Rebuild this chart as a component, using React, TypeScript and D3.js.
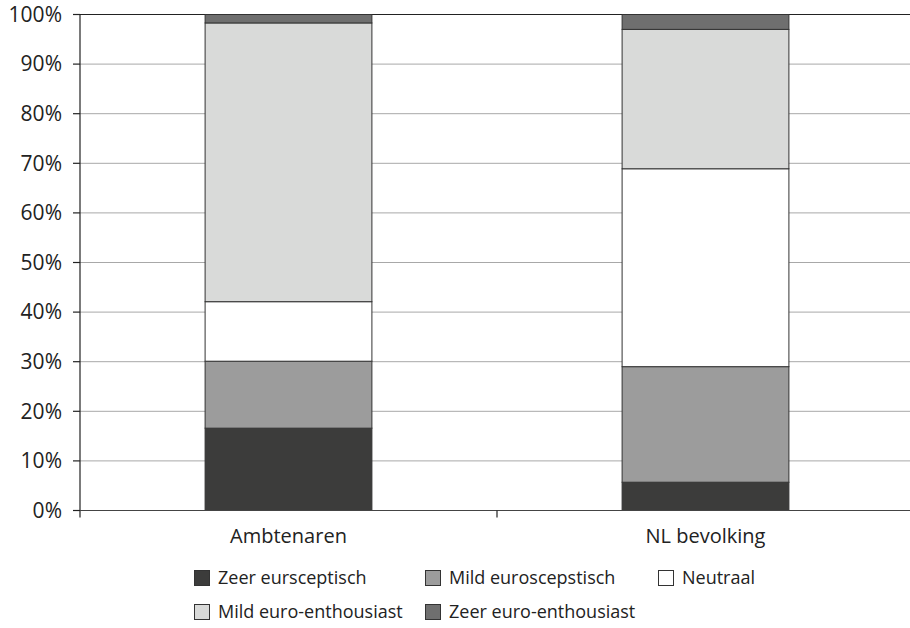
import React from "react";
import * as d3 from "d3";

const categories = ["Ambtenaren", "NL bevolking"];
const seriesNames = [
  "Zeer eursceptisch",
  "Mild euroscepstisch",
  "Neutraal",
  "Mild euro-enthousiast",
  "Zeer euro-enthousiast",
];
const zeerEurosceptisch = [16.6, 5.7];
const mildEurosceptisch = [13.5, 23.3];
const neutraal = [12.0, 39.9];
const mildEnthousiast = [56.2, 28.1];
const zeerEnthousiast = [1.7, 3.0];
const yTicks = [0, 10, 20, 30, 40, 50, 60, 70, 80, 90, 100];
const seriesColors = ["#3c3c3b", "#9c9c9c", "#ffffff", "#d9dad9", "#6f6f6f"];

const W = 910;
const H = 628;
const M = { left: 80, right: -4, top: 14.5, bottom: 117.5 };
const FONT = "'Open Sans', sans-serif";

export default function App() {
  const seriesValues = [zeerEurosceptisch, mildEurosceptisch, neutraal, mildEnthousiast, zeerEnthousiast];
  const rows = categories.map((c, i) => {
    const r: any = { cat: c };
    seriesNames.forEach((s, j) => (r[s] = seriesValues[j][i]));
    return r;
  });
  const stacked = d3.stack<any>().keys(seriesNames)(rows);

  const x = d3.scaleBand().domain(categories).range([M.left, W - M.right]).paddingInner(0.6).paddingOuter(0.3);
  const y = d3.scaleLinear().domain([0, 100]).range([H - M.bottom, M.top]);
  const step = x.step();
  const bandStart = (c: string) => (x(c) as number) - (step - x.bandwidth()) / 2;

  const legendRow1 = [0, 1, 2];
  const legendRow2 = [3, 4];
  const legendX = [194, 425, 658];

  return (
    <svg width={W} height={H} style={{ position: "absolute", left: 0, top: 0, fontFamily: FONT }}>
      <rect width={W} height={H} fill="#fff" />
      {yTicks.map((t) => (
        <g key={t}>
          {t > 0 && t < 100 && (
            <line x1={M.left} x2={W - M.right} y1={y(t)} y2={y(t)} stroke="#a8a8a8" strokeWidth={1} />
          )}
          <line x1={M.left - 7} x2={M.left} y1={y(t)} y2={y(t)} stroke="#222" strokeWidth={1.2} />
          <text x={62} y={y(t)} dy="0.35em" textAnchor="end" fontSize={21} fill="#222">
            {t}%
          </text>
        </g>
      ))}
      <line x1={M.left} x2={W - M.right} y1={y(100)} y2={y(100)} stroke="#222" strokeWidth={1.2} />
      {stacked.map((s, j) =>
        s.map((d, i) => (
          <rect
            key={j + "-" + i}
            x={x(categories[i])}
            width={x.bandwidth()}
            y={y(d[1])}
            height={y(d[0]) - y(d[1])}
            fill={seriesColors[j]}
            stroke="#333"
            strokeWidth={1}
          />
        ))
      )}
      <line x1={M.left} x2={M.left} y1={M.top} y2={y(0) + 7} stroke="#222" strokeWidth={1.2} />
      <line x1={M.left} x2={W - M.right} y1={y(0)} y2={y(0)} stroke="#444" strokeWidth={1.2} />
      {categories.map((c, i) =>
        i > 0 ? (
          <line key={c} x1={bandStart(c)} x2={bandStart(c)} y1={y(0)} y2={y(0) + 7} stroke="#222" strokeWidth={1.2} />
        ) : null
      )}
      {categories.map((c) => (
        <text key={c} x={(x(c) as number) + x.bandwidth() / 2} y={543} textAnchor="middle" fontSize={20} fill="#222">
          {c}
        </text>
      ))}
      {[legendRow1, legendRow2].map((row, ri) =>
        row.map((si, k) => (
          <g key={si} transform={`translate(${legendX[k]},${578 + ri * 34})`}>
            <rect x={0.5} y={-7.5} width={15} height={15} fill={seriesColors[si]} stroke="#333" strokeWidth={1} />
            <text x={24} y={0} dy="0.35em" fontSize={18} fill="#222">
              {seriesNames[si]}
            </text>
          </g>
        ))
      )}
    </svg>
  );
}
